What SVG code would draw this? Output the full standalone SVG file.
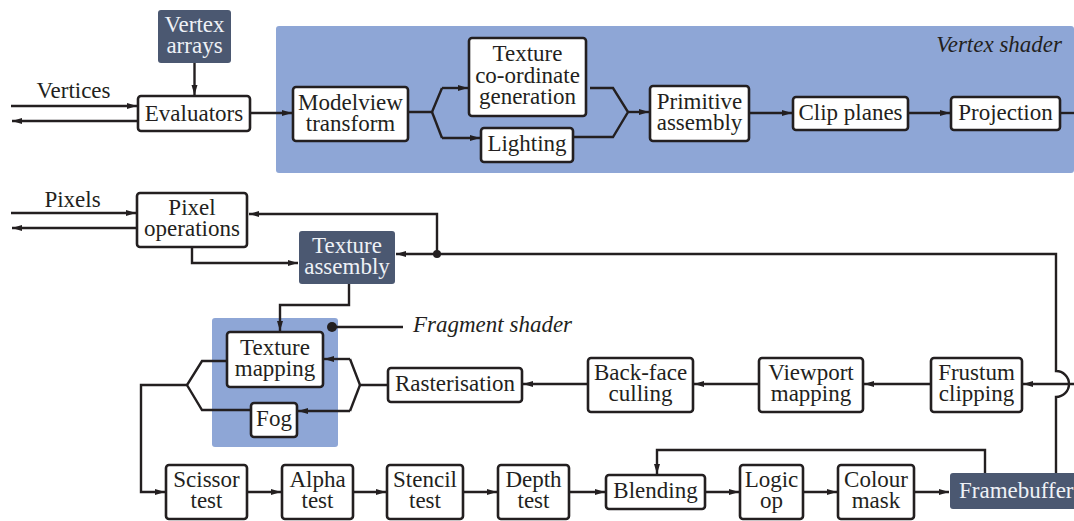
<svg xmlns="http://www.w3.org/2000/svg" width="1074" height="521" viewBox="0 0 1074 521">
<style>
.box{fill:#fff;stroke:#231f20;stroke-width:2.6}
.dark{fill:#4b5871}
.bg{fill:#8ea6d6}
.t{font-family:"Liberation Serif",serif;font-size:23px;fill:#231f20;text-anchor:middle}
.tw{font-family:"Liberation Serif",serif;font-size:23px;fill:#eef1f6;text-anchor:middle}
.tws{font-family:"Liberation Serif",serif;font-size:23px;fill:#eef1f6;text-anchor:start}
.it{font-family:"Liberation Serif",serif;font-size:23px;font-style:italic;fill:#231f20}
.c{fill:none;stroke:#231f20;stroke-width:2.4}
.a{marker-end:url(#ah)}
</style>
<defs>
<marker id="ah" markerUnits="userSpaceOnUse" markerWidth="10" markerHeight="8" refX="10" refY="4" orient="auto">
<path d="M0,1 L10,4 L0,7 z" fill="#231f20"/>
</marker>
</defs>
<rect id="vertex-shader-bg" class="bg" x="276" y="26" width="798" height="147" rx="3"/>
<text class="it" x="1062" y="52" text-anchor="end">Vertex shader</text>
<rect id="fragment-shader-bg" class="bg" x="212" y="318" width="126" height="129" rx="3"/>
<g id="connectors">
<path class="c a" d="M11,106 H137"/>
<path class="c a" d="M138,121 H12"/>
<path class="c a" d="M11,213 H136"/>
<path class="c a" d="M137,228 H12"/>
<path class="c a" d="M194.5,63 V95"/>
<path class="c a" d="M250,113 H292"/>
<path class="c" d="M408,112 H432 L442,88"/>
<path class="c a" d="M442,88 H468"/>
<path class="c" d="M432,112 L442,138"/>
<path class="c a" d="M442,138 H480"/>
<path class="c" d="M590,88 H613 L628,112 L613,137 H573"/>
<path class="c a" d="M628,112 H649"/>
<path class="c a" d="M749,113 H792"/>
<path class="c a" d="M908,113 H950"/>
<path class="c" d="M1060,113 H1074"/>
<path class="c a" d="M1074,384 H1023"/>
<path class="c a" d="M1056,473 V397 A13,13 0 0 0 1056,371 V254 H437 V214 H249"/>
<path class="c a" d="M437,254 H396"/>
<circle cx="437" cy="254" r="4" fill="#231f20"/>
<path class="c a" d="M192,248 V263 H298"/>
<path class="c a" d="M349,284 V305 H280 V331"/>
<circle cx="332" cy="327" r="5" fill="#231f20"/>
<path class="c" d="M332,327 H403"/>
<path class="c a" d="M931,384 H864"/>
<path class="c a" d="M759,384 H694"/>
<path class="c a" d="M588,384 H523"/>
<path class="c" d="M388,385 H360 L350,359"/>
<path class="c a" d="M350,359 H324"/>
<path class="c" d="M360,385 L350,411"/>
<path class="c a" d="M350,411 H298"/>
<path class="c" d="M227,361 H202 L187,385 L202,410 H251"/>
<path class="c a" d="M187,385 H141 V492 H165"/>
<path class="c a" d="M247,492 H281"/>
<path class="c a" d="M353,492 H386"/>
<path class="c a" d="M463,492 H497"/>
<path class="c a" d="M569,492 H605"/>
<path class="c a" d="M705,492 H739"/>
<path class="c a" d="M803,492 H837"/>
<path class="c a" d="M914,492 H949"/>
<path class="c a" d="M985,473 V450 H657 V474"/>
</g>
<text class="t" x="73.5" y="98">Vertices</text>
<text class="t" x="72.5" y="207">Pixels</text>
<text class="it" x="413" y="332">Fragment shader</text>
<g id="vertex-arrays"><rect class="dark" x="158" y="10" width="73" height="53" rx="3"/><text class="tw" x="194.5" y="32">Vertex</text><text class="tw" x="194.5" y="53">arrays</text></g>
<g id="evaluators"><rect class="box" x="138" y="96" width="112" height="35" rx="3"/><text class="t" x="194" y="121">Evaluators</text></g>
<g id="modelview"><rect class="box" x="293" y="87" width="115" height="54" rx="3"/><text class="t" x="350.5" y="109.5">Modelview</text><text class="t" x="350.5" y="130.5">transform</text></g>
<g id="texgen"><rect class="box" x="469" y="38" width="117" height="78" rx="3"/><text class="t" x="527.5" y="61">Texture</text><text class="t" x="527.5" y="82.5">co-ordinate</text><text class="t" x="527.5" y="104">generation</text></g>
<g id="lighting"><rect class="box" x="481" y="128" width="92" height="34" rx="3"/><text class="t" x="527" y="151">Lighting</text></g>
<g id="primitive"><rect class="box" x="650" y="86" width="99" height="55" rx="3"/><text class="t" x="699.5" y="109">Primitive</text><text class="t" x="699.5" y="130">assembly</text></g>
<g id="clip-planes"><rect class="box" x="793" y="97" width="115" height="33" rx="3"/><text class="t" x="850.5" y="119.5">Clip planes</text></g>
<g id="projection"><rect class="box" x="951" y="97" width="109" height="33" rx="3"/><text class="t" x="1005.5" y="119.5">Projection</text></g>
<g id="pixel-ops"><rect class="box" x="137" y="193" width="110" height="54" rx="3"/><text class="t" x="192" y="215">Pixel</text><text class="t" x="192" y="236">operations</text></g>
<g id="texture-assembly"><rect class="dark" x="299" y="231" width="96" height="53" rx="3"/><text class="tw" x="347" y="253">Texture</text><text class="tw" x="347" y="273.5">assembly</text></g>
<g id="texture-mapping"><rect class="box" x="227" y="332" width="96" height="55" rx="3"/><text class="t" x="275" y="355">Texture</text><text class="t" x="275" y="376">mapping</text></g>
<g id="fog"><rect class="box" x="251" y="403" width="46" height="34" rx="3"/><text class="t" x="274" y="426">Fog</text></g>
<g id="rasterisation"><rect class="box" x="388" y="368" width="134" height="34" rx="3"/><text class="t" x="455" y="391">Rasterisation</text></g>
<g id="backface"><rect class="box" x="588" y="358" width="105" height="54" rx="3"/><text class="t" x="640.5" y="380">Back-face</text><text class="t" x="640.5" y="401">culling</text></g>
<g id="viewport"><rect class="box" x="759" y="358" width="104" height="54" rx="3"/><text class="t" x="811" y="380">Viewport</text><text class="t" x="811" y="401">mapping</text></g>
<g id="frustum"><rect class="box" x="931" y="358" width="91" height="54" rx="3"/><text class="t" x="976.5" y="380">Frustum</text><text class="t" x="976.5" y="401">clipping</text></g>
<g id="scissor"><rect class="box" x="166" y="465" width="81" height="54" rx="3"/><text class="t" x="206.5" y="487">Scissor</text><text class="t" x="206.5" y="508">test</text></g>
<g id="alpha"><rect class="box" x="282" y="465" width="71" height="54" rx="3"/><text class="t" x="317.5" y="487">Alpha</text><text class="t" x="317.5" y="508">test</text></g>
<g id="stencil"><rect class="box" x="387" y="465" width="76" height="54" rx="3"/><text class="t" x="425" y="487">Stencil</text><text class="t" x="425" y="508">test</text></g>
<g id="depth"><rect class="box" x="498" y="465" width="71" height="54" rx="3"/><text class="t" x="533.5" y="487">Depth</text><text class="t" x="533.5" y="508">test</text></g>
<g id="blending"><rect class="box" x="606" y="475" width="99" height="34" rx="3"/><text class="t" x="655.5" y="498">Blending</text></g>
<g id="logic-op"><rect class="box" x="740" y="465" width="63" height="54" rx="3"/><text class="t" x="771.5" y="487">Logic</text><text class="t" x="771.5" y="508">op</text></g>
<g id="colour-mask"><rect class="box" x="838" y="465" width="76" height="54" rx="3"/><text class="t" x="876" y="487">Colour</text><text class="t" x="876" y="508">mask</text></g>
<g id="framebuffer"><rect class="dark" x="950" y="473" width="140" height="36" rx="3"/><text class="tws" x="959" y="498">Framebuffer</text></g>
</svg>
